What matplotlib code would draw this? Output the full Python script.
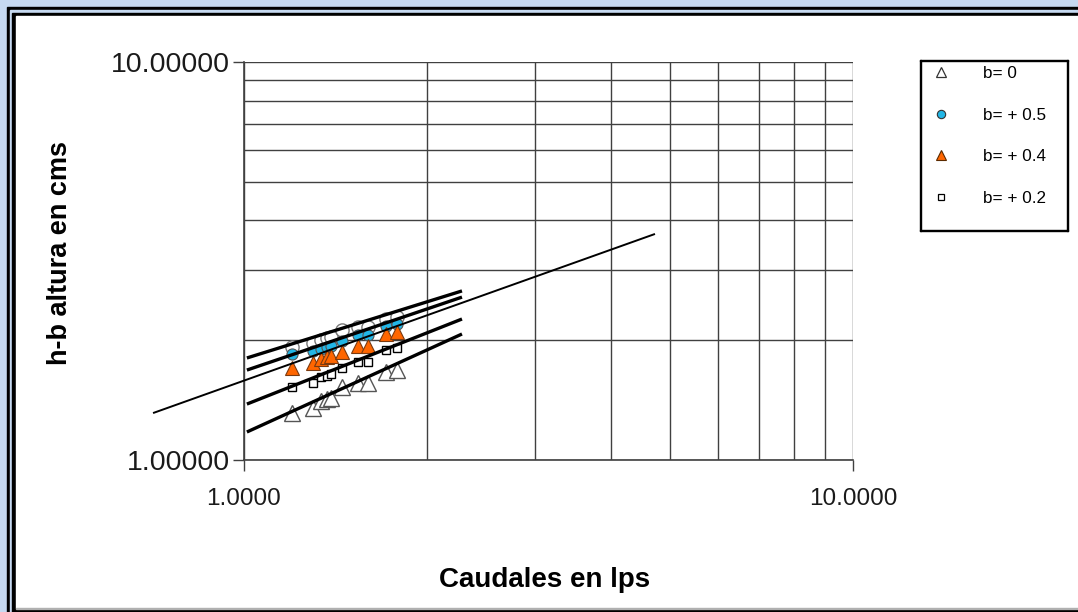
import matplotlib
matplotlib.use("Agg")
import matplotlib.pyplot as plt
import numpy as np
from matplotlib.patches import Rectangle
from matplotlib.lines import Line2D

plt.rcParams['font.family'] = ['Liberation Sans', 'DejaVu Sans']

# caudales (lps) medidos, comunes a todas las series
caudal = [1.20, 1.30, 1.34, 1.37, 1.39, 1.45, 1.54, 1.60, 1.71, 1.78]

# h-b (cm) para cada valor de b
h_b0 = [1.313, 1.351, 1.407, 1.423, 1.431, 1.526, 1.561, 1.561, 1.664, 1.683]
h_b02 = [1.526, 1.561, 1.616, 1.626, 1.645, 1.703, 1.763, 1.763, 1.890, 1.912]
h_b04 = [1.703, 1.753, 1.794, 1.815, 1.826, 1.868, 1.934, 1.934, 2.073, 2.097]
h_b05 = [1.847, 1.879, 1.901, 1.923, 1.934, 1.991, 2.061, 2.061, 2.171, 2.196]
h_ref = [1.923, 1.968, 2.003, 2.026, 2.040, 2.121, 2.159, 2.159, 2.261, 2.287]

# lineas de tendencia potencial h = a * Q^n  (a, n, Qmin, Qmax)
tend_ref = (1.795, 0.477, 1.011, 2.28)
tend_b05 = (1.673, 0.519, 1.011, 2.28)
tend_b04 = (1.583, 0.546, 0.709, 4.73)
tend_b02 = (1.373, 0.605, 1.011, 2.28)
tend_b0 = (1.167, 0.697, 1.011, 2.28)

leyenda = ["b= 0", "b= + 0.5", "b= + 0.4", "b= + 0.2"]

fig = plt.figure(figsize=(10.78, 6.12), dpi=100)
fig.patch.set_facecolor('#c6d9f1')

# marco tipo ventana
W, H = 1078.0, 612.0
def px_rect(x0, y0, x1, y1, color):
    fig.patches.append(Rectangle((x0 / W, 1 - y1 / H), (x1 - x0) / W, (y1 - y0) / H,
                                 transform=fig.transFigure, color=color, zorder=-10))

px_rect(7, 7, W, H, 'black')
px_rect(10, 10, W, H, '#c6d9f1')
px_rect(12, 13, W, H, 'black')
px_rect(16, 16, W, 608, 'white')
px_rect(16, 608, W, 609, '#b0b0b0')

ax = fig.add_axes([244 / W, 1 - 460 / H, 609 / W, 398 / H])
ax.set_facecolor('none')
ax.set_xscale('log')
ax.set_yscale('log')
ax.set_xlim(1, 10)
ax.set_ylim(1, 10)

ax.set_xticks([1, 10], ["1.0000", "10.0000"])
ax.set_yticks([1, 10], ["1.00000", "10.00000"])
ax.set_xticks(range(2, 10), minor=True)
ax.set_yticks(range(2, 10), minor=True)
ax.tick_params(which='minor', length=0, labelbottom=False, labelleft=False)
ax.tick_params(which='major', length=8, width=1, color='#404040', labelcolor='#1a1a1a')
ax.tick_params(axis='x', which='major', pad=12, labelsize=17.5)
ax.tick_params(axis='y', which='major', pad=2, labelsize=20.5)
ax.grid(True, which='both', color='#404040', linewidth=1)
for s in ['top', 'right']:
    ax.spines[s].set_visible(False)
for s in ['left', 'bottom']:
    ax.spines[s].set_color('#404040')
    ax.spines[s].set_linewidth(1.2)

# puntos medidos
ax.plot(caudal, h_ref, 'o', ms=9.5, mfc='white', mec='#777777', mew=1, zorder=3)
ax.plot(caudal, h_b05, 'o', ms=8, mfc='#22b6e6', mec='#555555', mew=0.8, zorder=4)
ax.plot(caudal, h_b04, '^', ms=10, mfc='#ff6600', mec='#7a3a10', mew=0.8, zorder=4)
ax.plot(caudal, h_b02, 's', ms=5.5, mfc='white', mec='black', mew=1, zorder=4)
ax.plot(caudal, h_b0, '^', ms=11, mfc='white', mec='#555555', mew=1, zorder=4)

# tendencias
for a, n, q0, q1 in [tend_ref, tend_b05, tend_b04, tend_b02, tend_b0]:
    q = np.array([q0, q1])
    lw = 1.4 if q1 > 3 else 2.4
    ax.plot(q, a * q ** n, color='black', lw=lw, zorder=5, clip_on=False,
            solid_capstyle='butt')

ax.set_xlabel("Caudales en lps", fontsize=20, fontweight='bold')
ax.set_ylabel("h-b altura en cms", fontsize=19.5, fontweight='bold')
ax.xaxis.set_label_coords((545 - 244) / 609, (460 - 580) / 398)
ax.yaxis.set_label_coords((60 - 244) / 609, (460 - 253) / 398)
ax.xaxis.label.set_va('center')
ax.yaxis.label.set_va('center')

# leyenda
px_rect(920, 60, 921, 231, 'black')
px_rect(1067, 60, 1068, 231, 'black')
px_rect(920, 60, 1068, 61, 'black')
px_rect(920, 230, 1068, 231, 'black')
handles = [
    Line2D([], [], ls='none', marker='^', ms=7, mfc='white', mec='#333333', mew=0.9),
    Line2D([], [], ls='none', marker='o', ms=6, mfc='#22b6e6', mec='#333333', mew=0.8),
    Line2D([], [], ls='none', marker='^', ms=7, mfc='#ff6600', mec='#5a2a00', mew=0.8),
    Line2D([], [], ls='none', marker='s', ms=5, mfc='white', mec='black', mew=0.9),
]
fig.legend(handles, leyenda, loc='upper left', bbox_to_anchor=(932 / W, 1 - 66 / H),
           frameon=False, fontsize=12.3, labelspacing=1.56, handlelength=1.0,
           handletextpad=2.0, borderaxespad=0, borderpad=0)

fig.savefig("out.png", dpi=100)
